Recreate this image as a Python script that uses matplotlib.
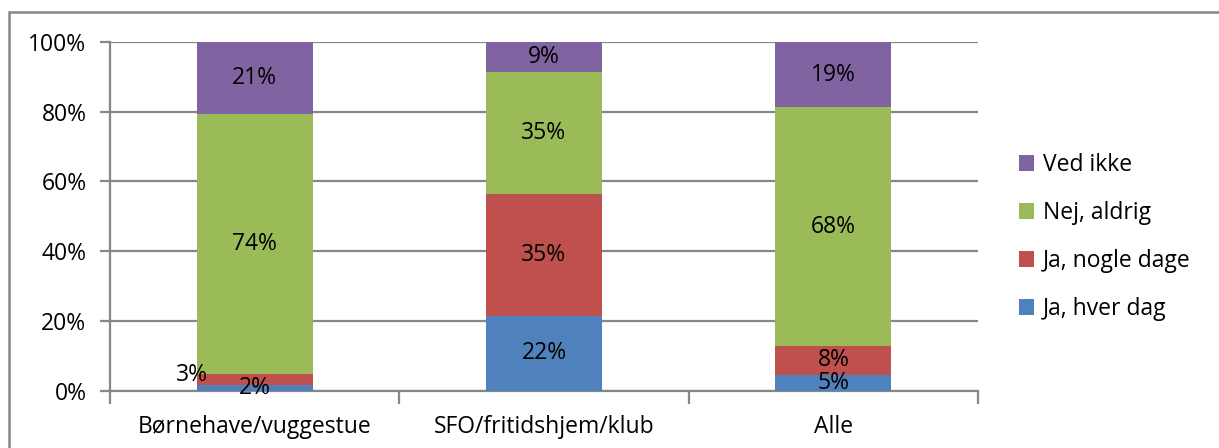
import matplotlib
matplotlib.use("Agg")

import matplotlib.pyplot as plt
from matplotlib.patches import Rectangle, Patch
import numpy as np

# data (percent of respondents)
categories = ["Børnehave/vuggestue", "SFO/fritidshjem/klub", "Alle"]
series_names = ["Ja, hver dag", "Ja, nogle dage", "Nej, aldrig", "Ved ikke"]
hver_dag = [1.6, 21.6, 4.7]
nogle_dage = [3.3, 34.8, 8.2]
aldrig = [74.4, 34.9, 68.3]
ved_ikke = [20.7, 8.7, 18.8]
y_ticks = [0, 20, 40, 60, 80, 100]

colors = ["#4F81BD", "#C0504D", "#9BBB59", "#8064A2"]
GRID = "#878787"

plt.rcParams["font.family"] = ["Open Sans", "DejaVu Sans"]
plt.rcParams["font.size"] = 16.5

fig = plt.figure(figsize=(12.19, 4.48), dpi=100)
ax = fig.add_axes([110 / 1219, 1 - 391 / 448, (978 - 110) / 1219, (391 - 41.7) / 448])

# outer chart frame (only top/left visible in the crop)
fig.patches.append(Rectangle((9 / 1219, -0.2), 1.2, 1.2 - 12 / 448,
                             transform=fig.transFigure, fill=False,
                             edgecolor=GRID, linewidth=1.8, zorder=0))

x = np.arange(len(categories))
width = 0.4
bottom = np.zeros(len(categories))
all_series = [hver_dag, nogle_dage, aldrig, ved_ikke]
for si, (vals, col) in enumerate(zip(all_series, colors)):
    vals = np.array(vals)
    ax.bar(x, vals, width, bottom=bottom, color=col, zorder=3)
    for ci, v in enumerate(vals):
        cy = bottom[ci] + v / 2
        label = f"{round(v)}%"
        if si == 1 and ci == 0:
            # Excel nudged this small label out to the left
            ax.annotate(label, (x[ci] - width / 2, cy), xytext=(8, 3),
                        textcoords="offset points", ha="right", va="center",
                        zorder=5)
        else:
            ax.text(x[ci], cy, label, ha="center", va="center", zorder=5)
    bottom += vals

ax.set_xlim(-0.5, len(categories) - 0.5)
ax.set_ylim(0, 100)
ax.set_yticks(y_ticks)
ax.set_yticklabels([f"{t}%" for t in y_ticks])
ax.yaxis.grid(True, color=GRID, linewidth=1.6, zorder=0)
ax.set_axisbelow(True)

ax.set_xticks(x)
ax.set_xticklabels(categories)
ax.tick_params(axis="x", length=0, pad=17)
ax.set_xticks(np.arange(len(categories) + 1) - 0.5, minor=True)
ax.tick_params(axis="x", which="minor", length=9, color=GRID, width=1.6)
ax.tick_params(axis="y", length=7, color=GRID, width=1.6, pad=10)

for side in ["top", "right"]:
    ax.spines[side].set_visible(False)
for side in ["left", "bottom"]:
    ax.spines[side].set_color(GRID)
    ax.spines[side].set_linewidth(1.6)

handles = [Patch(facecolor=c) for c in colors][::-1]
fig.legend(handles, series_names[::-1], loc="upper left",
           bbox_to_anchor=(1019 / 1219, 1 - 153 / 448), frameon=False,
           borderpad=0, borderaxespad=0,
           handlelength=0.66, handleheight=0.66, handletextpad=0.4,
           labelspacing=1.05)

fig.savefig("out.png", dpi=100)
